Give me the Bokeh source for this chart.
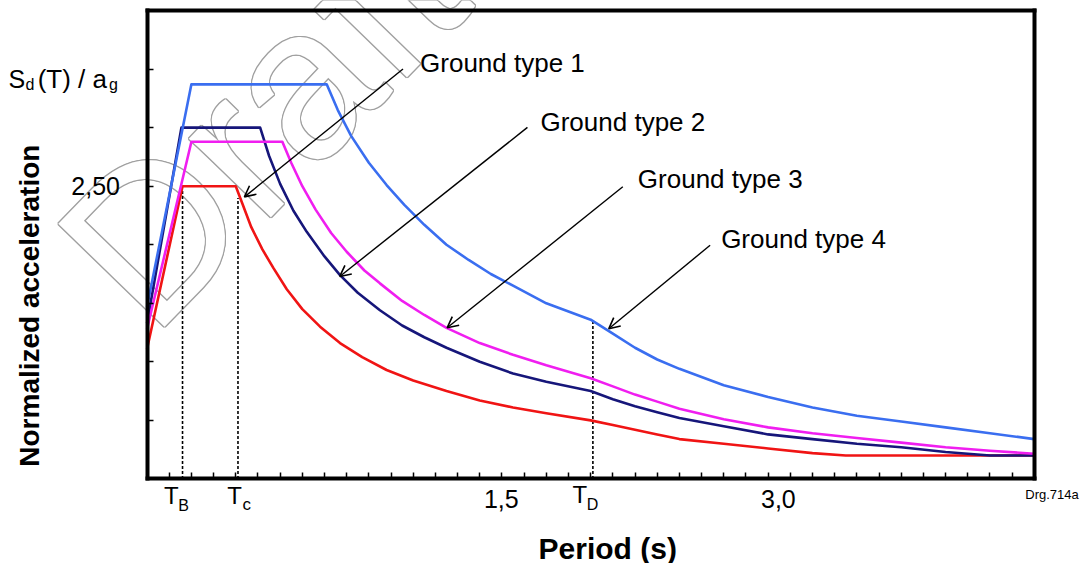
from bokeh.plotting import figure
from bokeh.models import Range1d, FixedTicker, Label, Arrow, OpenHead, LinearAxis
from bokeh.embed import file_html
from bokeh.resources import INLINE

# ---------------- data ----------------
# Ground type 1 (red)
T1 = [0, 0.16, 0.40, 0.43, 0.47, 0.52, 0.57, 0.63, 0.70, 0.78, 0.87, 0.97, 1.08, 1.20, 1.35,
      1.50, 1.65, 1.80, 2.00, 2.10, 2.20, 2.30, 2.40, 2.60, 2.80, 3.00, 3.15, 3.50, 4.00]
S1 = [1.11, 2.50, 2.50, 2.35, 2.15, 1.96, 1.80, 1.62, 1.45, 1.30, 1.16, 1.04, 0.93, 0.84, 0.75,
      0.67, 0.61, 0.56, 0.50, 0.46, 0.42, 0.38, 0.34, 0.30, 0.26, 0.22, 0.20, 0.20, 0.20]
# Ground type 2 (navy)
T2 = [0, 0.155, 0.51, 0.55, 0.60, 0.66, 0.72, 0.80, 0.87, 0.95, 1.05, 1.15, 1.25, 1.35, 1.50,
      1.65, 1.80, 2.00, 2.10, 2.20, 2.30, 2.40, 2.60, 2.80, 3.00, 3.20, 3.40, 3.60, 3.80, 4.00]
S2 = [1.33, 3.00, 3.00, 2.76, 2.52, 2.29, 2.11, 1.90, 1.74, 1.59, 1.44, 1.31, 1.21, 1.12, 1.00,
      0.90, 0.83, 0.75, 0.68, 0.62, 0.57, 0.52, 0.45, 0.38, 0.34, 0.30, 0.27, 0.23, 0.20, 0.20]
# Ground type 3 (magenta)
T3 = [0, 0.20, 0.61, 0.65, 0.70, 0.76, 0.83, 0.90, 0.98, 1.05, 1.15, 1.25, 1.35, 1.50, 1.65,
      1.80, 2.00, 2.10, 2.20, 2.30, 2.40, 2.60, 2.80, 3.00, 3.20, 3.40, 3.60, 3.80, 4.00]
S3 = [1.28, 2.88, 2.88, 2.70, 2.50, 2.30, 2.10, 1.94, 1.78, 1.67, 1.52, 1.40, 1.29, 1.16, 1.06,
      0.97, 0.86, 0.79, 0.72, 0.66, 0.60, 0.51, 0.44, 0.39, 0.35, 0.31, 0.27, 0.24, 0.215]
# Ground type 4 (blue)
T4 = [0, 0.20, 0.81, 0.86, 0.92, 1.00, 1.08, 1.16, 1.25, 1.35, 1.45, 1.55, 1.65, 1.80, 2.00,
      2.10, 2.20, 2.30, 2.40, 2.60, 2.80, 3.00, 3.20, 3.40, 3.60, 3.80, 4.00]
S4 = [1.47, 3.37, 3.37, 3.15, 2.93, 2.70, 2.51, 2.34, 2.17, 2.00, 1.87, 1.75, 1.65, 1.50, 1.36,
      1.24, 1.12, 1.02, 0.94, 0.80, 0.70, 0.61, 0.54, 0.49, 0.44, 0.39, 0.34]

series_names = ["Ground type 1", "Ground type 2", "Ground type 3", "Ground type 4"]
series_colors = ["#f01414", "#16167a", "#f01ef0", "#3a6ef0"]

# characteristic periods (dashed markers) and the top of each dashed line
T_marks = [0.16, 0.41, 2.01]
T_mark_tops = [2.46, 2.40, 1.36]

x_tick_labels = ["1,5", "3,0"]
y_tick_label = "2,50"

FONT = "Liberation Sans"

# reference-pixel -> data helpers for annotation placement
def dx(px):
    return (px - 148) / 221.0

def dy(py):
    return (477 - py) / 116.25

# frame covers (almost) the whole canvas; the chart box is drawn by fixed-location axes
p = figure(width=1088, height=563,
           x_range=Range1d(dx(2), dx(1086)), y_range=Range1d(dy(561), dy(2)),
           output_backend="svg", toolbar_location=None,
           min_border_left=0, min_border_right=0, min_border_top=0, min_border_bottom=0)
p.xgrid.visible = False
p.ygrid.visible = False
p.background_fill_color = "white"
p.border_fill_color = "white"
p.outline_line_color = None

def style_axis(ax, ticks):
    ax.ticker = FixedTicker(ticks=ticks)
    ax.bounds = (0, 4)
    ax.axis_line_color = "black"
    ax.axis_line_width = 4
    ax.axis_line_cap = "square"
    ax.major_tick_in = 6
    ax.major_tick_out = 0
    ax.major_tick_line_color = "black" if ticks else None
    ax.major_tick_line_width = 1.5
    ax.minor_tick_line_color = None
    ax.major_label_text_font_size = "0px"
    ax.major_label_text_alpha = 0
    ax.major_label_standoff = 0

p.xaxis.fixed_location = 0
p.yaxis.fixed_location = 0
style_axis(p.xaxis[0], [round(0.1 * i, 1) for i in range(1, 40)])
style_axis(p.yaxis[0], [0.5 * i for i in range(1, 8)])
top_ax = LinearAxis(fixed_location=4)
right_ax = LinearAxis(fixed_location=4)
style_axis(top_ax, [])
style_axis(right_ax, [])
p.add_layout(top_ax, "above")
p.add_layout(right_ax, "right")

# watermark "Draft" (outlined, grey)
wx, wy = dx(100), dy(287)
for ox, oy in [(-1, 0), (1, 0), (0, -1), (0, 1), (-1, -1), (1, 1), (-1, 1), (1, -1)]:
    p.add_layout(Label(x=wx, y=wy, text="Draft", x_offset=ox, y_offset=oy, angle=0.80,
                       text_font=FONT, text_font_size="215px", text_color="#a0a0a0",
                       text_align="left", text_baseline="middle", level="underlay"))
p.add_layout(Label(x=wx, y=wy, text="Draft", angle=0.80,
                   text_font=FONT, text_font_size="215px", text_color="white",
                   text_align="left", text_baseline="middle", level="underlay"))

# dashed period markers
for tm, top in zip(T_marks, T_mark_tops):
    p.line([tm, tm], [0, top], line_color="black", line_width=1.6, line_dash="3 2")

# curves
for (tt, ss), col in zip([(T1, S1), (T2, S2), (T3, S3), (T4, S4)], series_colors):
    p.line(tt, ss, line_color=col, line_width=2.6, line_join="round")

# arrows and labels
arrow_tails = [(403, 70), (527, 128), (622, 187), (709, 245)]
arrow_tips = [(245, 197), (340, 276), (447, 327), (608, 328)]
label_pos = [(420, 64), (540, 123), (637, 179), (720, 239)]
for name, (tx, ty), (hx, hy), (lx, ly) in zip(series_names, arrow_tails, arrow_tips, label_pos):
    p.add_layout(Arrow(x_start=dx(tx), y_start=dy(ty), x_end=dx(hx), y_end=dy(hy),
                       line_color="black", line_width=1.4,
                       end=OpenHead(size=11, line_color="black", line_width=1.6)))
    p.add_layout(Label(x=dx(lx), y=dy(ly), text=name, text_font=FONT, text_font_size="26px",
                       text_color="black", text_align="left", text_baseline="middle"))

def lab(px, py, text, size, align="left", bold=False, angle=0.0):
    p.add_layout(Label(x=dx(px), y=dy(py), text=text, text_font=FONT, text_font_size=size,
                       text_color="black", text_align=align, text_baseline="middle",
                       text_font_style="bold" if bold else "normal", angle=angle))

# x tick texts
lab(165, 493, "T", "24px"); lab(179, 503, "B", "16px")
lab(228, 493, "T", "24px"); lab(243, 502, "c", "17px")
lab(572, 492, "T", "24px"); lab(586, 502, "D", "16px")
lab(501, 497, x_tick_labels[0], "25px", align="center")
lab(777, 497, x_tick_labels[1], "25px", align="center")
# y tick texts
lab(121, 186, y_tick_label, "25px", align="right")
lab(10, 80, "S", "25px"); lab(27, 85, "d", "16px")
lab(39, 80, "(T) / a", "26px"); lab(110, 85, "g", "16px")
# axis titles and note
lab(607, 546, "Period (s)", "30px", align="center", bold=True)
lab(31, 305, "Normalized acceleration", "28px", align="center", bold=True, angle=1.5708)
lab(1023, 492, "Drg.714a", "13px")

open("out.html", "w").write(file_html(p, INLINE))
